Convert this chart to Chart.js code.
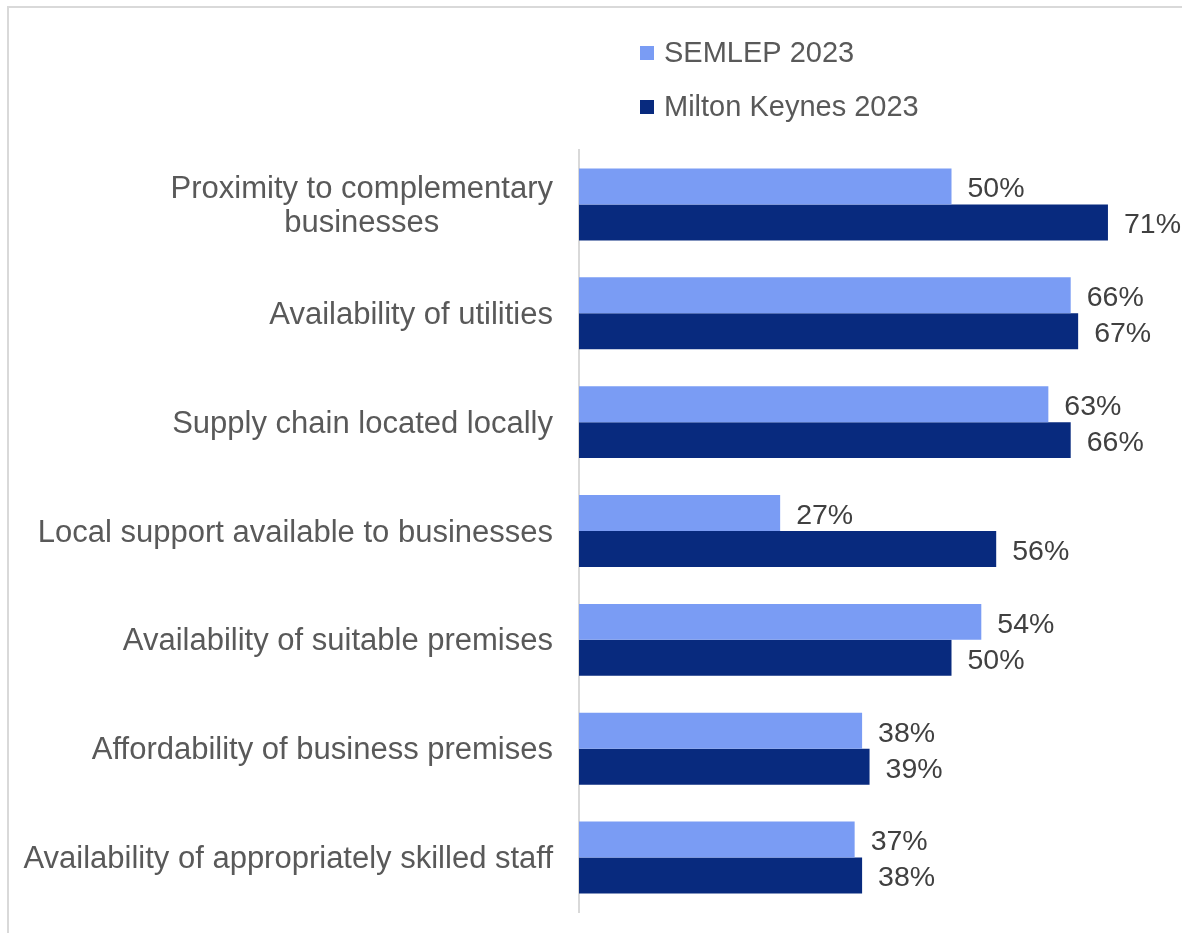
<!DOCTYPE html>
<html>
<head>
<meta charset="utf-8">
<script src="https://cdn.jsdelivr.net/npm/chart.js@4.4.1/dist/chart.umd.min.js"></script>
<style>
  html, body { margin: 0; padding: 0; background: #fff; overflow: hidden; }
  #frame {
    position: absolute; left: 7px; top: 6px; width: 1300px; height: 1100px;
    border: 2px solid #d9d9d9; box-sizing: border-box;
  }
  #wrap { position: absolute; left: 0; top: 0; width: 1182px; height: 933px; }
</style>
</head>
<body>
<div id="frame"></div>
<div id="wrap"><canvas id="locChart" width="1182" height="933"></canvas></div>
<script>
const categories = [
  ['Proximity to complementary', 'businesses'],
  'Availability of utilities',
  'Supply chain located locally',
  'Local support available to businesses',
  'Availability of suitable premises',
  'Affordability of business premises',
  'Availability of appropriately skilled staff'
];
const seriesNames = ['SEMLEP 2023', 'Milton Keynes 2023'];
const semlep2023 = [50, 66, 63, 27, 54, 38, 37];
const miltonKeynes2023 = [71, 67, 66, 56, 50, 39, 38];
const seriesColors = ['#7a9cf4', '#082a7e'];

const FONT = '"Liberation Sans", Arial, sans-serif';
const TEXT = '#595959';

// category labels: block right-aligned against the axis, lines centred inside
const categoryLabels = {
  id: 'categoryLabels',
  afterDraw(chart) {
    const { ctx } = chart;
    const yScale = chart.scales.y;
    const right = chart.chartArea.left - 26;
    ctx.save();
    ctx.font = '31px ' + FONT;
    ctx.fillStyle = TEXT;
    ctx.textAlign = 'center';
    ctx.textBaseline = 'middle';
    categories.forEach((cat, i) => {
      const lines = Array.isArray(cat) ? cat : [cat];
      const blockW = Math.max(...lines.map(l => ctx.measureText(l).width));
      const cy = yScale.getPixelForTick(i) + 2;
      const lh = 34;
      lines.forEach((l, j) => {
        ctx.fillText(l, right - blockW / 2, cy + (j - (lines.length - 1) / 2) * lh);
      });
    });
    ctx.restore();
  }
};

// value labels at the end of each bar
const valueLabels = {
  id: 'valueLabels',
  afterDatasetsDraw(chart) {
    const { ctx } = chart;
    ctx.save();
    ctx.font = '28.5px ' + FONT;
    ctx.fillStyle = '#404040';
    ctx.textAlign = 'left';
    ctx.textBaseline = 'middle';
    chart.data.datasets.forEach((ds, di) => {
      chart.getDatasetMeta(di).data.forEach((bar, i) => {
        ctx.fillText(ds.data[i] + '%', bar.x + 16, bar.y + 3);
      });
    });
    ctx.restore();
  }
};

// stacked legend above the plot
const stackedLegend = {
  id: 'stackedLegend',
  afterDraw(chart) {
    const { ctx } = chart;
    ctx.save();
    ctx.font = '29px ' + FONT;
    ctx.textBaseline = 'middle';
    chart.data.datasets.forEach((ds, i) => {
      const y = 53 + i * 54;
      ctx.fillStyle = ds.backgroundColor;
      ctx.fillRect(640, y - 7, 14, 14);
      ctx.fillStyle = TEXT;
      ctx.fillText(ds.label, 664, y + 1);
    });
    ctx.restore();
  }
};

new Chart(document.getElementById('locChart'), {
  type: 'bar',
  data: {
    labels: categories,
    datasets: [
      { label: seriesNames[0], data: semlep2023, backgroundColor: seriesColors[0] },
      { label: seriesNames[1], data: miltonKeynes2023, backgroundColor: seriesColors[1] }
    ]
  },
  options: {
    indexAxis: 'y',
    responsive: false,
    animation: false,
    devicePixelRatio: 1,
    layout: { padding: { top: 150, bottom: 21, right: 7, left: 0 } },
    datasets: { bar: { categoryPercentage: 0.661, barPercentage: 1 } },
    scales: {
      x: { display: false, min: 0, max: 80 },
      y: {
        grid: { display: false },
        border: { display: true, color: '#d9d9d9', width: 2 },
        ticks: { display: false },
        afterFit(scale) { scale.width = 579; }
      }
    },
    plugins: {
      legend: { display: false },
      tooltip: { enabled: false }
    }
  },
  plugins: [categoryLabels, valueLabels, stackedLegend]
});
</script>
</body>
</html>
